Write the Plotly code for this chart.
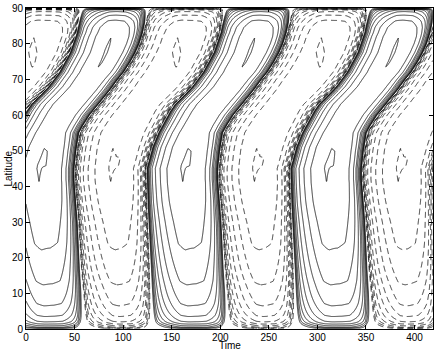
import numpy as np
import plotly.graph_objects as go

# ---- values
period = 148.0  # time between two fronts of the same kind

# front where the positive (solid) band ends and the negative (dashed) one begins
end_lat = [0, 10, 17, 30, 35, 42, 45, 50, 55, 57, 60, 62, 65, 67, 70, 72, 75, 77.5, 80, 83, 86, 90]
end_time = [60, 58, 56, 53.5, 52, 50, 50, 52, 55, 59, 66, 72, 81, 87, 95, 101, 108, 113, 117, 120.5, 123, 125]

# front where the negative band ends and the positive one begins
start_lat = [0, 17, 35, 45, 51, 55, 58, 61, 63, 66, 68, 72, 77.5, 83, 87, 90]
start_time = [-18, -20, -23, -24, -18, -12, -6, 0, 5, 16, 23, 34, 45, 52, 55, 57]

# time of the field peak inside the positive and the negative band
ridge_lat = [0, 41, 51, 73, 82, 90]
ridge_pos = [21, 8, 8, 80, 80, 91]
ridge_neg = [95, 81, 81, 155, 155, 165]

# field amplitude along latitude (in units of the top contour level)
amp_lat = [0, 0.9, 1.4, 2.0, 3.5, 6.5, 12.4, 22.2, 30, 36, 41, 46, 51, 56, 62, 68, 73, 77.5, 82, 84.5, 86.6, 88, 89, 90]
amp_val = [0, 1/128, 1/64, 1/32, 1/16, 1/8, 1/4, 1/2, 0.7, 0.9, 0.999, 1.012, 0.999, 0.93, 0.88, 0.92, 0.999, 1.012, 0.999, 0.85, 0.5, 0.25, 0.125, 0]

# relative field across a band: slow growth after the front it starts at ...
grow_dist = [0.05, 5.5, 8.5, 13.5, 20, 30, 37, 80]
grow_val = [4.7e-6, 0.057, 0.11, 0.23, 0.45, 0.91, 0.985, 1.0]
# ... and a quick drop before the front where it ends
drop_dist = [0.05, 3.5, 5, 6, 8.5, 12.5, 22, 30, 80]
drop_val = [5.7e-6, 0.028, 0.057, 0.11, 0.23, 0.45, 0.91, 0.985, 1.0]

x_ticks = [0, 50, 100, 150, 200, 250, 300, 350, 400]
y_ticks = [0, 10, 20, 30, 40, 50, 60, 70, 80, 90]

# ---- build the field on a grid
t = np.arange(0, 419.01, 0.4)
lat = np.arange(0, 90.01, 0.25)
T, LAT = np.meshgrid(t, lat)

f_start = np.interp(LAT, start_lat, start_time)
f_end = np.interp(LAT, end_lat, end_time)
amp = np.interp(LAT, amp_lat, amp_val)

def profile(d, dist, val):
	d = np.clip(d, dist[0], None)
	return np.exp(np.interp(np.log(d), np.log(dist), np.log(val)))

w_pos = f_end - f_start
u = np.mod(T - f_start, period)
pos = u < w_pos
w = np.where(pos, w_pos, period - w_pos)
da = np.where(pos, u, u - w_pos)
db = w - da
g = profile(da, grow_dist, grow_val) * profile(db, drop_dist, drop_val)

# small bump on the ridge of each band (measured from the band start)
r_pos = np.mod(np.interp(LAT, ridge_lat, ridge_pos) - f_start, period)
r_neg = np.mod(np.interp(LAT, ridge_lat, ridge_neg) - f_end, period)
x_r = da - np.where(pos, r_pos, r_neg)
g = g * (1 - 0.03 * (1 - np.exp(-(x_r / 6) ** 2)))

# scale each band so that its peak along time is 1
gmax_pos = np.where(pos, g, 0).max(axis = 1, keepdims = True)
gmax_neg = np.where(~pos, g, 0).max(axis = 1, keepdims = True)
g = g / np.where(pos, gmax_pos, gmax_neg)
B = np.where(pos, 1.0, -1.0) * amp * g

# contour levels 1/1024 ... 1 -> uniform steps of log2
z_pos = np.log2(np.where(B > 0, B, 1e-12))
z_neg = np.log2(np.where(B < 0, -B, 1e-12))

# ---- create figure
fig = go.Figure()
for z, dash in [(z_pos, 'solid'), (z_neg, '6px,4px')]:
	fig.add_trace(go.Contour(
		x = t,
		y = lat,
		z = z,
		contours = dict(coloring = 'none', start = -10, end = 0, size = 1),
		line = dict(color = 'black', width = 0.8, dash = dash, smoothing = 0),
		showscale = False,
		hoverinfo = 'skip',
	))

axis_style = dict(
	showline = True,
	linecolor = 'black',
	linewidth = 1,
	mirror = 'ticks',
	ticks = 'inside',
	ticklen = 4,
	tickcolor = 'black',
	showgrid = False,
	zeroline = False,
	automargin = False,
	tickfont = dict(size = 10, color = 'black'),
)

# ---- update plot layout
fig.update_layout(
	width = 436,
	height = 353,
	margin = dict(l = 26, r = 3, t = 8, b = 24),
	paper_bgcolor = 'white',
	plot_bgcolor = 'white',
	font = dict(family = 'Liberation Sans, Arial', size = 10, color = 'black'),
	showlegend = False,
	xaxis = dict(range = [0, 419], tickvals = x_ticks, ticklabelstandoff = -1, **axis_style),
	yaxis = dict(range = [0, 90], tickvals = y_ticks, **axis_style),
	annotations = [
		dict(text = 'Time', x = 0.5, y = 0, xref = 'paper', yref = 'paper',
			yanchor = 'bottom', yshift = -24, showarrow = False, font = dict(size = 10)),
		dict(text = 'Latitude', x = 0, y = 0.5, xref = 'paper', yref = 'paper',
			xanchor = 'center', xshift = -18, textangle = -90, showarrow = False, font = dict(size = 10)),
	],
)

# the page body has a default margin, drop it so the figure sits at the corner
fig.write_html(
	"out.html",
	config = {'displayModeBar': False},
	post_script = "document.body.style.margin = '0';",
)
